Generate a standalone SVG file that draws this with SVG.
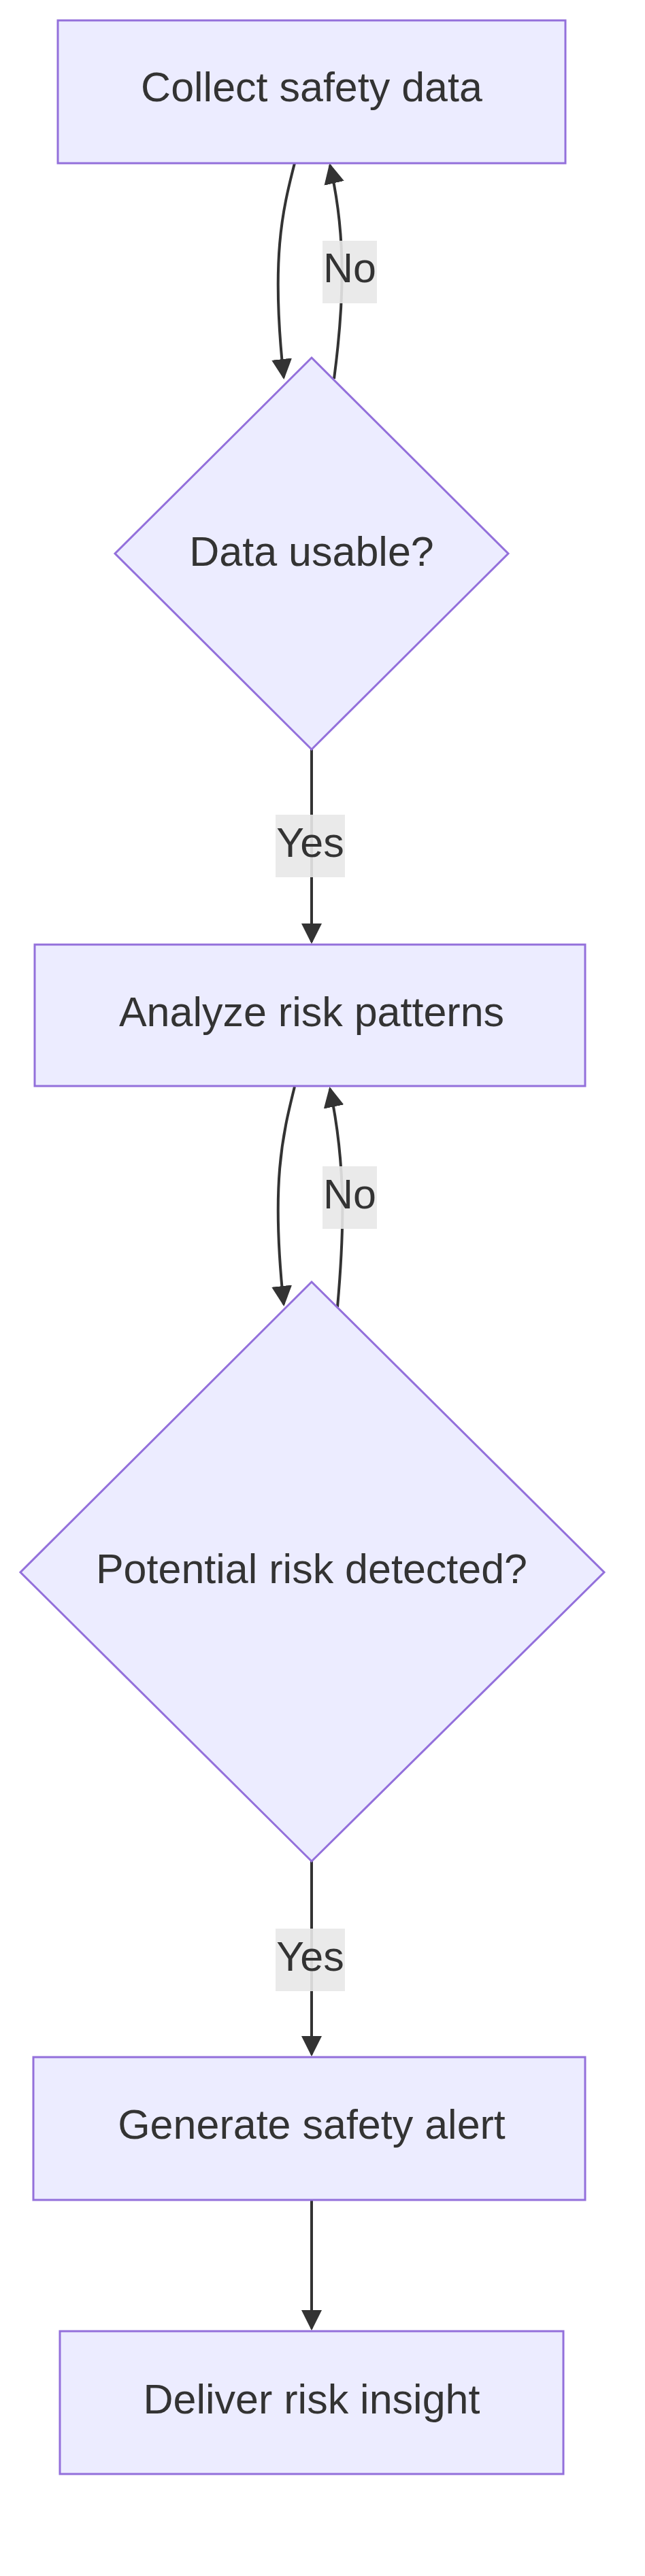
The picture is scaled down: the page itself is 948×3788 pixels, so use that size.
<svg xmlns="http://www.w3.org/2000/svg" width="948" height="3788" viewBox="0 0 948 3788">
<style>
.n{fill:#ECECFF;stroke:#9370DB;stroke-width:3}
.t{font-family:"Liberation Sans",Arial,sans-serif;font-size:61px;fill:#333;text-anchor:middle;dominant-baseline:central}
.e{fill:none;stroke:#333;stroke-width:4}
.lb{fill:#e8e8e8;opacity:0.9}
</style>
<defs><marker id="a" viewBox="0 0 10 10" refX="9" refY="5" markerWidth="7.5" markerHeight="7.5" markerUnits="strokeWidth" orient="auto"><path d="M0,0L10,5L0,10z" fill="#333"/></marker></defs>
<rect width="948" height="3788" fill="#fff"/>
<g id="edges">
<path class="e" d="M433,240 C415,310 398,380 417,555" marker-end="url(#a)"/>
<path class="e" d="M491,557 C505,450 510,350 485,243" marker-end="url(#a)"/>
<path class="e" d="M458,1102 L458,1385" marker-end="url(#a)"/>
<path class="e" d="M433,1598 C415,1670 398,1740 417,1918" marker-end="url(#a)"/>
<path class="e" d="M496,1922 C505,1820 510,1720 485,1601" marker-end="url(#a)"/>
<path class="e" d="M458,2737 L458,3021" marker-end="url(#a)"/>
<path class="e" d="M458,3235 L458,3424" marker-end="url(#a)"/>
<rect class="lb" x="474" y="354" width="80" height="92"/><text class="t" x="514" y="394">No</text>
<rect class="lb" x="405" y="1198" width="102" height="92"/><text class="t" x="456" y="1239">Yes</text>
<rect class="lb" x="474" y="1715" width="80" height="92"/><text class="t" x="514" y="1756">No</text>
<rect class="lb" x="405" y="2836" width="102" height="92"/><text class="t" x="456" y="2877">Yes</text>
</g>
<g id="n1"><rect class="n" x="85" y="30" width="746" height="210"/><text class="t" x="458" y="128">Collect safety data</text></g>
<g id="n2"><polygon class="n" points="458,526 747,814 458,1102 169,814"/><text class="t" x="458" y="811">Data usable?</text></g>
<g id="n3"><rect class="n" x="51" y="1389" width="809" height="208"/><text class="t" x="458" y="1488">Analyze risk patterns</text></g>
<g id="n4"><polygon class="n" points="458,1885 888,2312 458,2737 30,2312"/><text class="t" x="458" y="2307">Potential risk detected?</text></g>
<g id="n5"><rect class="n" x="49" y="3025" width="811" height="210"/><text class="t" x="458" y="3124">Generate safety alert</text></g>
<g id="n6"><rect class="n" x="88" y="3428" width="740" height="210"/><text class="t" x="458" y="3528">Deliver risk insight</text></g>
</svg>
